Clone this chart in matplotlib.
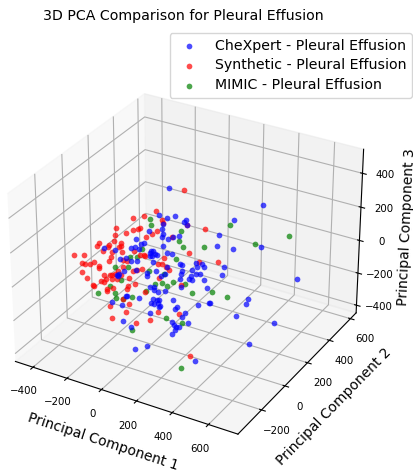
from matplotlib import pyplot as plt

x_lim = (-505, 760)
y_lim = (-395, 655)
z_lim = (-448, 540)

chexpert_x = [-35, -92, -45, 0, 62, 50, 66, -69, -76, -156,
              19, -69, -76, -45, -16, -232, -184, -201, -72, -426,
              -359, -262, -236, -213, -330, -295, -262, -228, -145, -152,
              -129, -119, -148, -109, -139, -51, -18, -133, 25, 37,
              117, 156, 165, 124, -232, -113, -51, -306, -340, -343,
              -349, -166, -166, -86, -61, 33, 29, 37, 95, 121,
              144, 89, 78, 95, 165, 185, 33, -150, -125, -129,
              -106, -61, -297, -289, -221, -381, -133, -109, -98, -148,
              -129, -106, -100, -94, -16, 8, -6, 56, 132, 195,
              -154, 35, -22, 76, -320, 494, 334, 249, 242, 328,
              484, 690, 279, 271, 420, 410, 199, 352, 567, 430,
              130, 144, 163, 136, 122, -167, -122, 49, 118, 393]
chexpert_y = [200, 200, 200, 200, 200, 200, 200, 200, 200, 200,
              200, 200, 200, 200, 200, 200, 200, 200, 200, 200,
              200, 200, 200, 200, 200, 200, 200, 200, 200, 200,
              200, 200, 200, 200, 200, 200, 200, 200, 200, 200,
              200, 200, 200, 200, 200, 200, 200, 200, 200, 200,
              200, 200, 200, 200, 200, 200, 200, 200, 200, 200,
              200, 200, 200, 200, 200, 200, 200, 200, 200, 200,
              200, 200, 200, 200, 200, 200, 200, 200, 200, 200,
              200, 200, 200, 200, 200, 200, 200, 200, 200, 200,
              200, 200, 200, 200, 200, 200, 200, 200, 200, 200,
              200, 200, 200, 200, 200, 200, 200, 200, 200, 200,
              0, 0, 0, 0, 0, 0, 0, -200, -200, -200]
chexpert_z = [355, 179, 176, 199, 196, 180, 167, 133, 104, 69,
              90, 72, 53, 49, 73, -3, -12, -28, 3, -115,
              -110, -70, -56, -58, -155, -140, -149, -135, -50, -66,
              -49, -60, -85, -63, -78, -34, -32, -112, -81, -83,
              -42, -39, -55, -65, -191, -166, -119, -223, -251, -262,
              -260, -195, -213, -189, -168, -136, -171, -115, -97, -110,
              -105, -135, -157, -157, -135, -178, -217, -276, -266, -287,
              -292, -269, -379, -373, -363, -439, -345, -342, -341, -372,
              -376, -357, -381, -374, -311, -350, -364, -369, -298, -266,
              -440, -404, -455, -428, -441, 408, 273, 160, 92, 102,
              159, 35, -21, -71, -167, -203, -265, -293, -266, -442,
              -287, -292, -286, -315, -342, -358, -379, -323, -284, -282]

synthetic_x = [50, -113, -184, -250, -76, -70, 70, 171, -349, -250,
               -221, -207, -109, -137, -291, -357, -174, -361, -453, -465,
               -396, -398, -320, -336, -324, -20, -379, -432, -383, -314,
               -310, -242, -207, -187, -182, -69, 82, 136, -514, -491,
               -396, -457, -457, -428, -392, -383, -363, -340, -314, -285,
               -252, -226, -197, -104, -76, -53, -35, -100, -501, -493,
               -447, -428, -416, -383, -353, -324, -279, -244, -285, -289,
               -375, -412, -412, -184, -281, -314, -102, 21, 33, 247,
               -450, -393, -403, -387, -406, -377, -243, -148, -233, -88, -5, 365]
synthetic_y = [200, 200, 200, 200, 200, 200, 200, 200, 200, 200,
               200, 200, 200, 200, 200, 200, 200, 200, 200, 200,
               200, 200, 200, 200, 200, 200, 200, 200, 200, 200,
               200, 200, 200, 200, 200, 200, 200, 200, 200, 200,
               200, 200, 200, 200, 200, 200, 200, 200, 200, 200,
               200, 200, 200, 200, 200, 200, 200, 200, 200, 200,
               200, 200, 200, 200, 200, 200, 200, 200, 200, 200,
               200, 200, 200, 200, 200, 200, 200, 200, 200, 200,
               0, 0, 0, 0, 0, 0, 0, 0, 0, 0, 0, -200]
synthetic_z = [368, 198, 151, 117, 158, 142, 168, 174, 27, 47,
               62, 72, 79, 55, 18, -16, 28, -57, -92, -117,
               -90, -100, -57, -86, -74, 70, -125, -136, -159, -110,
               -157, -83, -92, -91, -95, -73, 7, -34, -242, -223,
               -189, -239, -249, -284, -272, -274, -258, -231, -203, -156,
               -205, -191, -174, -118, -108, -122, -136, -203, -372, -372,
               -331, -331, -309, -294, -285, -252, -259, -283, -312, -327,
               -350, -366, -380, -317, -421, -399, -414, -390, -203, -1,
               -44, -25, -74, -77, -134, -160, -290, -294, -363, -345, -300, -260]

mimic_x = [-147, -141, 33, 23, 43, 164, -197, -225, -271, 2,
           -359, -283, -154, -70, -14, -82, -51, -123, -174, 54,
           95, -396, -469, -361, -359, -314, -258, -59, 35, -324,
           312, 636, 451, 212, 301, -114, 312]
mimic_y = [200, 200, 200, 200, 200, 200, 200, 200, 200, 200,
           200, 200, 200, 200, 200, 200, 200, 200, 200, 200,
           200, 200, 200, 200, 200, 200, 200, 200, 200, 200,
           200, 200, 200, 200, 200, 0, -200]
mimic_z = [140, 107, 121, 57, 31, 67, -55, -110, -124, -54,
           -217, -192, -176, -171, -199, -229, -238, -249, -307, -195,
           -232, -343, -411, -378, -405, -403, -367, -436, -440, -282,
           241, 272, 166, -192, -194, -395, -352]

fig = plt.figure(figsize=(4.13, 4.70), dpi=100)
ax = fig.add_axes([-0.035, 0.023, 0.959, 0.843], projection='3d', computed_zorder=False)

ax.scatter(chexpert_x, chexpert_y, chexpert_z, c='blue', s=17, alpha=0.7, linewidths=0,
           depthshade=False, zorder=3, label='CheXpert - Pleural Effusion')
ax.scatter(synthetic_x, synthetic_y, synthetic_z, c='red', s=17, alpha=0.7, linewidths=0,
           depthshade=False, zorder=2, label='Synthetic - Pleural Effusion')
ax.scatter(mimic_x, mimic_y, mimic_z, c='green', s=17, alpha=0.7, linewidths=0,
           depthshade=False, zorder=1, label='MIMIC - Pleural Effusion')

ax.set_xlim(*x_lim)
ax.set_ylim(*y_lim)
ax.set_zlim(*z_lim)
ax.set_xlabel('Principal Component 1', fontsize=10, labelpad=2)
ax.set_ylabel('Principal Component 2', fontsize=10, labelpad=2)
ax.set_zlabel('Principal Component 3', fontsize=10, labelpad=0)
ax.tick_params(labelsize=7.4, pad=2)

fig.text(0.105, 0.957, '3D PCA Comparison for Pleural Effusion', fontsize=10.15)
ax.legend(fontsize=10.15, loc='upper right', bbox_to_anchor=(0.9976, 0.93),
          bbox_transform=fig.transFigure, borderaxespad=0, labelspacing=0.42)

fig.savefig('out.png', dpi=100)
